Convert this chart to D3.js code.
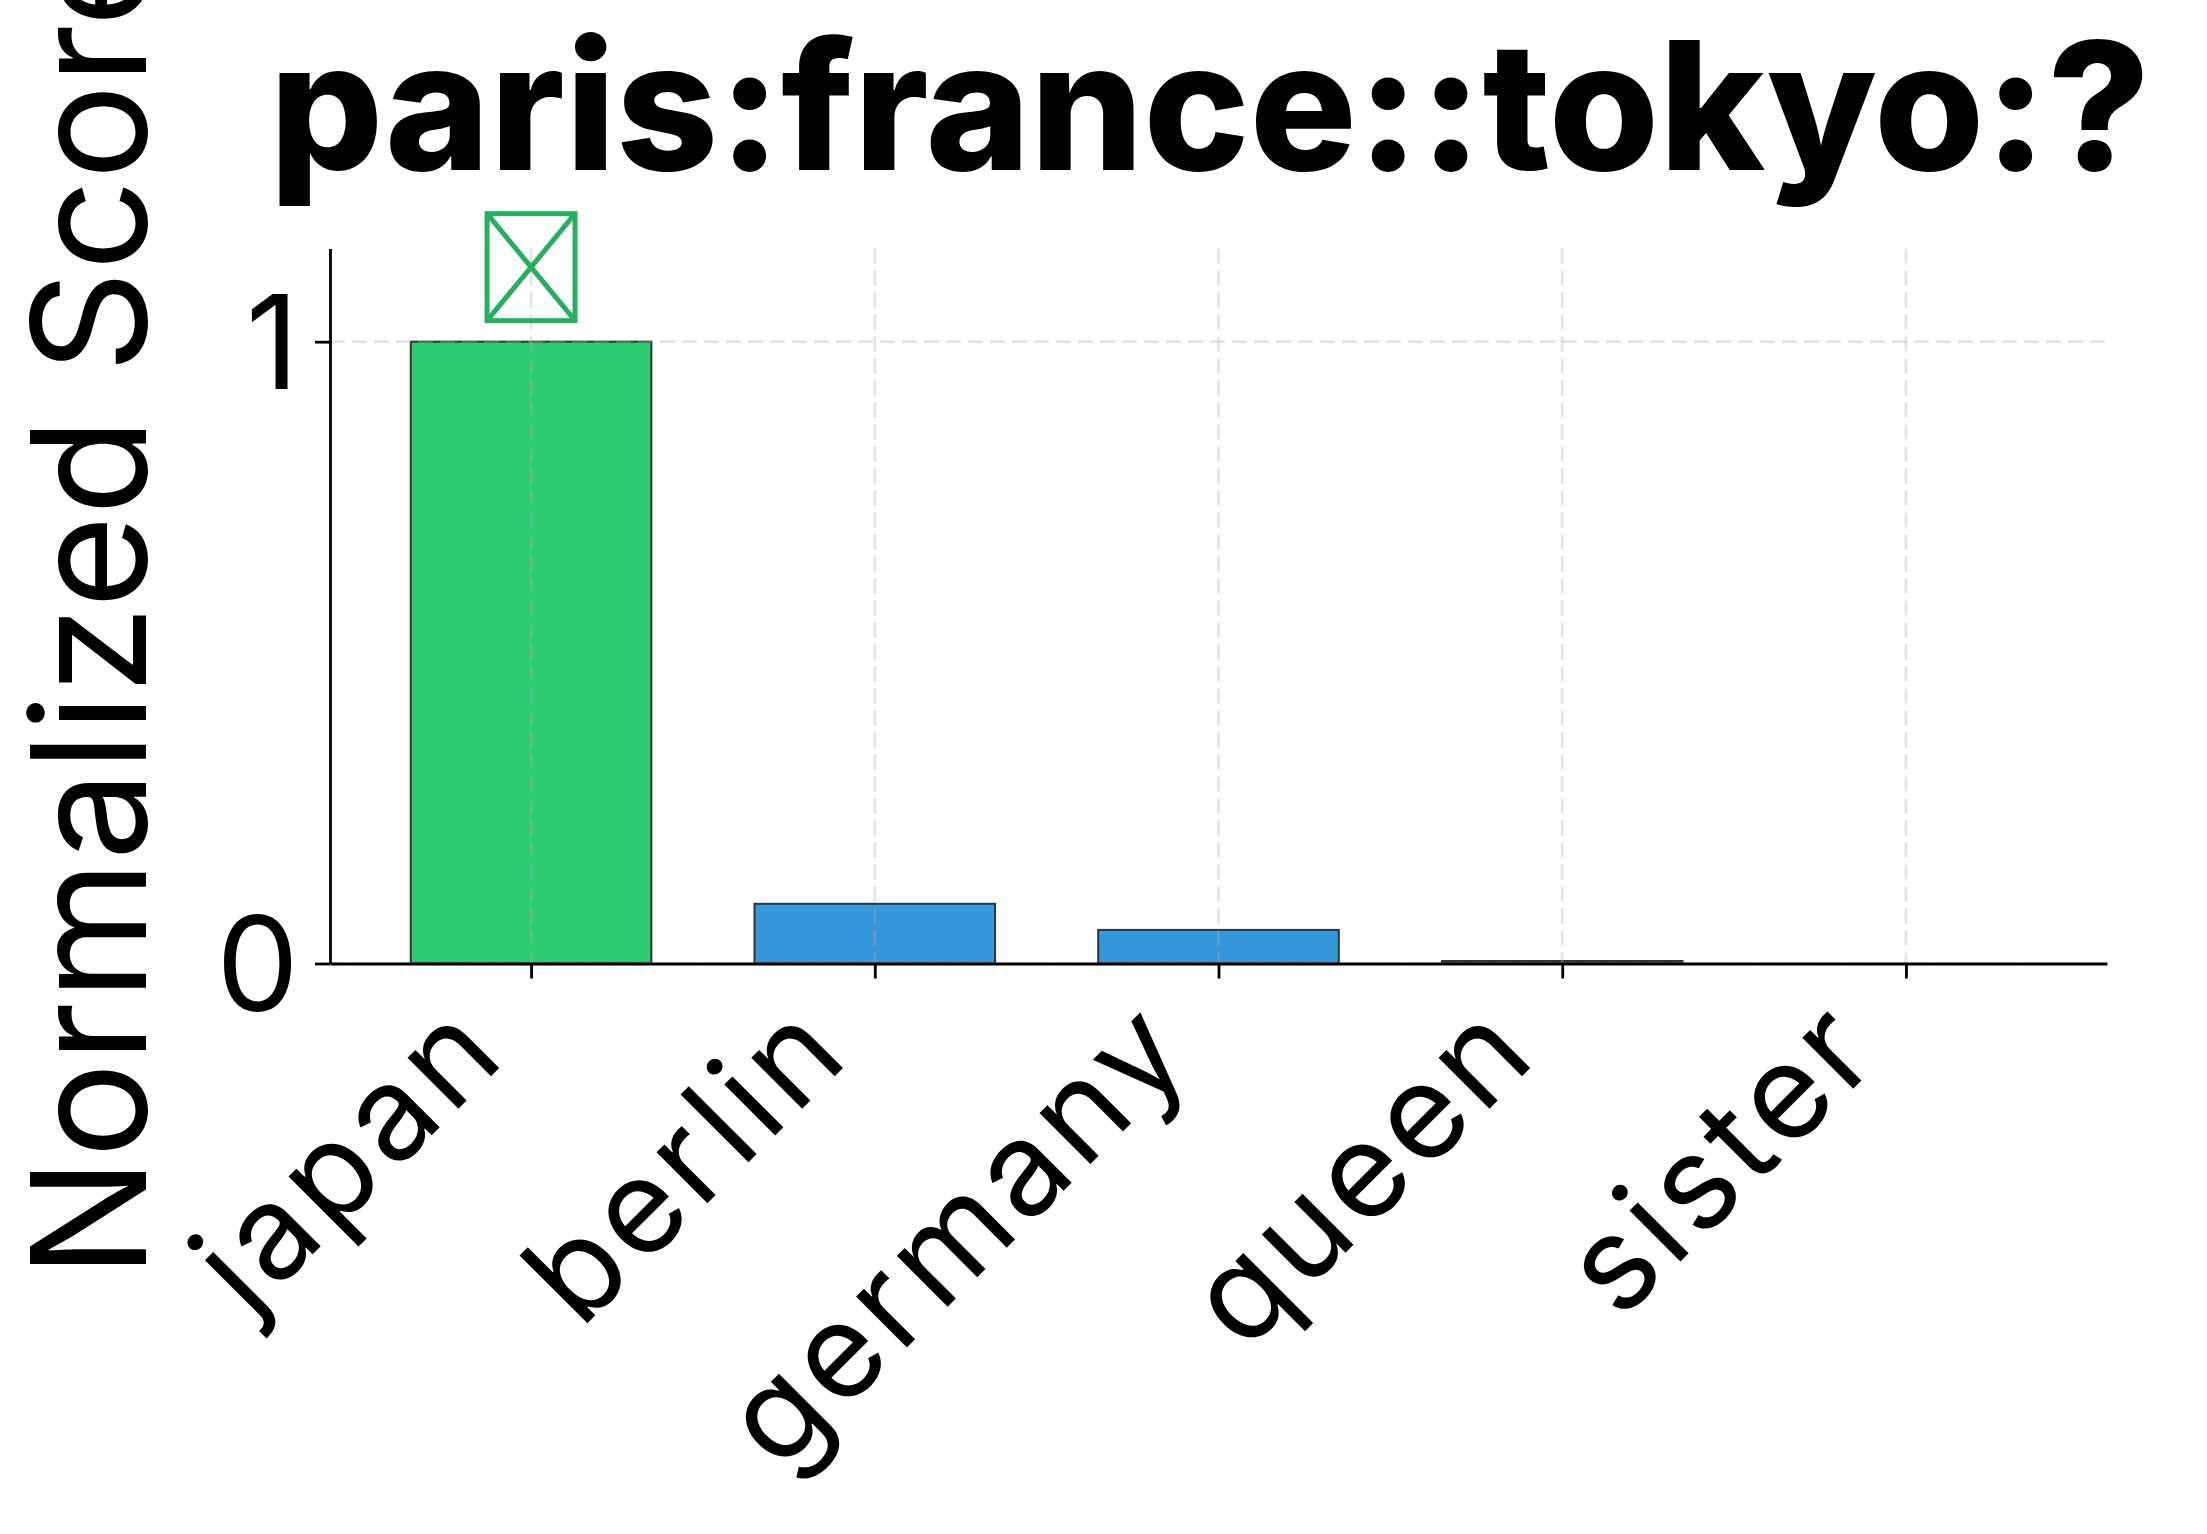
<!DOCTYPE html>
<html>
<head>
<meta charset="utf-8">
<script src="https://cdn.jsdelivr.net/npm/d3@7"></script>
<style>
  html, body { margin: 0; padding: 0; background: #fff; }
  svg { display: block; font-family: Inter, "Noto Sans", sans-serif; }
</style>
</head>
<body>
<svg id="chart" width="2207" height="1534"></svg>
<script>
// chart data
const categories = ['japan', 'berlin', 'germany', 'queen', 'sister'];
const scores = [1.0, 0.096, 0.054, 0.004, 0.0];
const barColors = ['#2ecc71', '#3498db', '#3498db', '#3498db', '#3498db'];
const yTickValues = [0, 1];
const markedCategory = 'japan';   // the boxed marker above the answer bar
const titleText = 'paris:france::tokyo:?';
const yLabelText = 'Normalized Score';

const svg = d3.select('#chart');
svg.append('rect').attr('width', 2207).attr('height', 1534).attr('fill', '#fff');

// plot area
const plotLeft = 330, plotRight = 2107, plotBottom = 963.5, plotTop = 248.4;

const xScale = d3.scaleLinear()
  .domain([-0.585, categories.length - 1 + 0.585])
  .range([plotLeft, plotRight]);

const yScale = d3.scaleLinear()
  .domain([0, 1.15])
  .range([plotBottom, plotTop]);

const barHalf = 0.35;

// bars
svg.append('g')
  .selectAll('rect')
  .data(scores)
  .enter()
  .append('rect')
  .attr('x', (d, i) => xScale(i - barHalf))
  .attr('width', (d, i) => xScale(i + barHalf) - xScale(i - barHalf))
  .attr('y', d => yScale(d))
  .attr('height', d => yScale(0) - yScale(d))
  .attr('fill', (d, i) => barColors[i])
  .attr('stroke', '#333')
  .attr('stroke-width', 2);

// dashed grid, drawn over the bars like matplotlib does
const grid = svg.append('g')
  .attr('stroke', '#b0b0b0')
  .attr('stroke-opacity', 0.35)
  .attr('stroke-width', 2.7)
  .attr('stroke-dasharray', '15,7');

grid.selectAll('.vgrid')
  .data(categories)
  .enter()
  .append('line')
  .attr('x1', (d, i) => xScale(i))
  .attr('x2', (d, i) => xScale(i))
  .attr('y1', plotTop)
  .attr('y2', plotBottom);

grid.selectAll('.hgrid')
  .data(yTickValues)
  .enter()
  .append('line')
  .attr('x1', plotLeft)
  .attr('x2', plotRight)
  .attr('y1', d => yScale(d))
  .attr('y2', d => yScale(d));

// marker box above the marked bar
const mi = categories.indexOf(markedCategory);
const mk = svg.append('g')
  .attr('transform', 'translate(' + xScale(mi) + ',' + yScale(scores[mi]) + ')')
  .attr('stroke', '#27ae60')
  .attr('stroke-width', 5)
  .attr('fill', 'none');
const bw = 88, bh = 107, gap = 21;
mk.append('rect').attr('x', -bw / 2).attr('y', -gap - bh).attr('width', bw).attr('height', bh);
mk.append('line').attr('x1', -bw / 2).attr('y1', -gap - bh).attr('x2', bw / 2).attr('y2', -gap);
mk.append('line').attr('x1', bw / 2).attr('y1', -gap - bh).attr('x2', -bw / 2).attr('y2', -gap);

// axes
const yAxis = svg.append('g')
  .attr('transform', 'translate(' + plotLeft + ',0)')
  .call(d3.axisLeft(yScale).tickValues(yTickValues).tickSize(15).tickSizeOuter(0).tickFormat(d3.format('d')));

const xAxis = svg.append('g')
  .attr('transform', 'translate(0,' + plotBottom + ')')
  .call(d3.axisBottom(xScale).tickValues(d3.range(categories.length)).tickSize(15).tickSizeOuter(0)
    .tickFormat(i => categories[i]));

[xAxis, yAxis].forEach(ax => {
  ax.select('.domain').attr('stroke', '#000').attr('stroke-width', 2.8);
  ax.selectAll('.tick line').attr('stroke', '#000').attr('stroke-width', 2.8);
  ax.selectAll('text').attr('fill', '#000').attr('font-family', 'Inter, sans-serif');
});

yAxis.selectAll('text')
  .attr('font-size', 131)
  .attr('x', -31)
  .attr('dy', '0.36em');

xAxis.selectAll('text')
  .attr('font-size', 132)
  .attr('letter-spacing', 6)
  .attr('text-anchor', 'end')
  .attr('x', 0)
  .attr('y', 0)
  .attr('dy', 0)
  .attr('transform', 'translate(-21,93) rotate(-45)');

// fit a text to a target width
function fitWidth(sel, target) {
  const w = sel.node().getComputedTextLength();
  const fs = +sel.attr('font-size');
  sel.attr('font-size', fs * target / w);
}

// title
const title = svg.append('text')
  .attr('x', 1210)
  .attr('y', 170)
  .attr('text-anchor', 'middle')
  .attr('font-weight', 800)
  .attr('font-size', 150)
  .attr('fill', '#000')
  .text(titleText);
fitWidth(title, 1881);

// y label
const ylab = svg.append('text')
  .attr('transform', 'translate(146,' + ((plotTop + plotBottom) / 2) + ') rotate(-90)')
  .attr('text-anchor', 'middle')
  .attr('font-size', 160)
  .attr('fill', '#000')
  .text(yLabelText);
fitWidth(ylab, 1344);
</script>
</body>
</html>
